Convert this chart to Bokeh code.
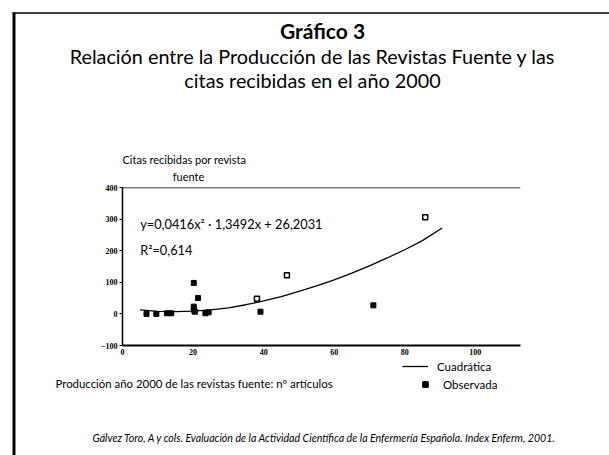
from bokeh.plotting import figure
from bokeh.models import (Range1d, FixedTicker, Label, Span, Legend, LegendItem)
from bokeh.embed import file_html
from bokeh.resources import INLINE

# ---- data ----
filled_x = [6.8, 9.6, 12.6, 13.8, 20.2, 20.2, 20.2, 21.4, 20.5, 23.5, 24.4, 39.1, 71.1]
filled_y = [0, 0, 2, 2, 98, 23, 13, 50, 7, 2, 5, 7, 27]
hollow_x = [38.1, 46.6, 85.8]
hollow_y = [48, 122, 306]
curve_x = [5, 10, 15, 20, 25, 30, 35, 40, 45, 50, 55, 60, 65, 70, 75, 80, 85, 90.6]
curve_y = [13, 8, 7, 9, 13, 19, 29, 41, 55, 71, 89, 108, 129, 152, 177, 203, 232, 272]
x_ticks = [0, 20, 40, 60, 80, 100]
y_ticks = [-100, 0, 100, 200, 300, 400]

W, H = 609, 455
FONT = "Lato"

# ---------- background layer: titles, notes, legend, outer box ----------
bg = figure(width=W, height=H, output_backend="svg", toolbar_location=None,
            x_range=Range1d(0, W), y_range=Range1d(H, 0),
            min_border=0)
bg.axis.visible = False
bg.grid.visible = False
bg.outline_line_color = None
bg.background_fill_color = "white"
bg.border_fill_color = "white"

def label(text, x, y, size, align="left", style="normal"):
    bg.add_layout(Label(x=x, y=y, text=text, text_font=FONT,
                        text_font_size=size, text_align=align,
                        text_baseline="alphabetic", text_font_style=style,
                        text_color="black"))

label("Gráfico 3", 322, 30, "21px", "center", "bold")
label("Relación entre la Producción de las Revistas Fuente y las", 312, 55, "19.8px", "center")
label("citas recibidas en el año 2000", 312, 79, "19.8px", "center")
label("Citas recibidas por revista", 122, 159, "11px")
label("fuente", 188, 176, "11px", "center")
label("Producción año 2000 de las revistas fuente: nº artículos", 55, 383, "11.4px")
label("Gálvez Toro, A  y cols. Evaluación de la Actividad Científica de la Enfermería Española. Index Enferm, 2001.",
      92, 437, "10.6px", "left", "italic")

# outer box: thick left edge, thin top edge
bg.segment(x0=[13.5, 12], y0=[12, 12.5], x1=[13.5, 609], y1=[455, 12.5],
           line_color="black", line_width=[3, 1.5])

# legend sample renderers (kept off-canvas; only their legend swatches show)
lg_line = bg.line(x=[-50, -40], y=[-50, -50], line_color="black", line_width=1.3)
lg_mark = bg.scatter(x=[-50], y=[-50], marker="square", size=5, fill_color="black",
                     line_color="black")
common = dict(background_fill_alpha=0, border_line_color=None,
              label_text_font=FONT, label_text_font_size="11.5px",
              label_text_color="black",
              glyph_width=26, glyph_height=14, padding=0, margin=0)
bg.add_layout(Legend(items=[LegendItem(label="Cuadrática", renderers=[lg_line])],
                     location=(402, H - 373), label_standoff=9, **common))
bg.add_layout(Legend(items=[LegendItem(label="Observada", renderers=[lg_mark])],
                     location=(412, H - 391), label_standoff=5, **common))

# ---------- foreground: the scatter plot with axes ----------
F_LEFT, F_RIGHT, F_TOP, F_BOTTOM = 122, 520, 187, 345
p = figure(width=W, height=H, output_backend="svg", toolbar_location=None,
           x_range=Range1d(0, 112.8), y_range=Range1d(-100, 400),
           min_border_left=F_LEFT, min_border_right=W - F_RIGHT,
           min_border_top=F_TOP, min_border_bottom=H - F_BOTTOM)
p.outline_line_color = None
p.grid.visible = False
p.background_fill_alpha = 0
p.border_fill_alpha = 0
p.styles = {"position": "absolute", "top": "0px", "left": "0px"}

p.xaxis.ticker = FixedTicker(ticks=x_ticks)
p.yaxis.ticker = FixedTicker(ticks=y_ticks)
for ax in (p.xaxis, p.yaxis):
    ax.axis_line_color = "black"
    ax.minor_tick_line_color = None
    ax.major_label_text_font = "Liberation Serif"
    ax.major_label_text_font_style = "bold"
    ax.major_label_text_font_size = "8px"
    ax.major_label_text_color = "black"
p.xaxis.axis_line_width = 2
p.yaxis.axis_line_width = 1.5
p.xaxis.major_tick_line_color = None
p.xaxis.major_tick_out = 0
p.xaxis.major_tick_in = 0
p.xaxis.major_label_standoff = 3
p.yaxis.major_tick_line_color = "black"
p.yaxis.major_tick_out = 3
p.yaxis.major_tick_in = 0
p.yaxis.major_label_standoff = 2

p.add_layout(Span(location=400, dimension="width", line_color="black", line_width=1.5))

p.line(curve_x, curve_y, line_color="black", line_width=1.3)
p.scatter(filled_x, filled_y, marker="square", size=5, fill_color="black",
          line_color="black")
p.scatter(hollow_x, hollow_y, marker="square", size=5, fill_color="white",
          line_color="black", line_width=1.5)

p.add_layout(Label(x=5, y=283, text="y=0,0416x\u00b2 \u00b7 1,3492x + 26,2031",
                   text_font=FONT, text_font_size="12.8px", text_baseline="alphabetic",
                   text_color="black"))
p.add_layout(Label(x=5, y=203, text="R\u00b2=0,614",
                   text_font=FONT, text_font_size="12.8px", text_baseline="alphabetic",
                   text_color="black"))

open("out.html", "w").write(file_html([bg, p], INLINE))
